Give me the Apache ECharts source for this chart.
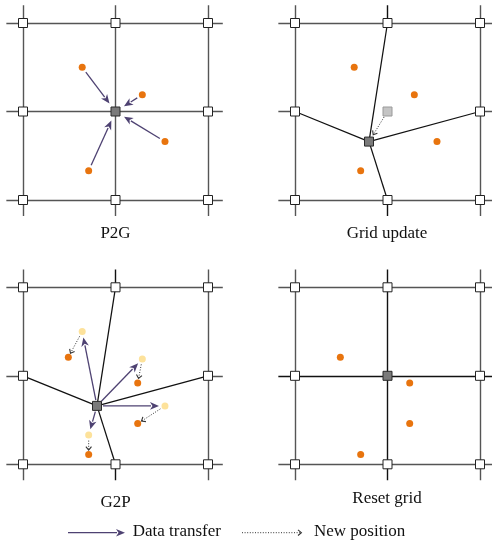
<!DOCTYPE html>
<html>
<head>
<meta charset="utf-8">
<script src="https://cdn.jsdelivr.net/npm/echarts@6/dist/echarts.min.js"></script>
<style>html,body{margin:0;padding:0;background:#fff;}#c{width:492px;height:544px;}</style>
</head>
<body>
<div id="c"></div>
<script>
// ---- data (grid units: node spacing = 1) ----
const gridNodes = [[0,0],[1,0],[2,0],[0,1],[1,1],[2,1],[0,2],[1,2],[2,2]];
const centerNode = [1,1];
const movedNode = [0.80,1.34];
const particlesBefore = [[0.64,0.50],[1.29,0.81],[1.535,1.34],[0.71,1.67]];
const particlesAfter  = [[0.49,0.79],[1.24,1.08],[1.24,1.54],[0.71,1.89]];
const panelTitles = ['P2G','Grid update','G2P','Reset grid'];
const legendLabels = ['Data transfer','New position'];
const lineExtentH = [-0.18, 2.16];
const lineExtentV = [-0.2, 2.18];

// ---- styles ----
const FONT = '"Liberation Serif","Times New Roman",serif';
const GRAY = '#555', BLACK = '#111', PURPLE = '#4e4272', DOT = '#333';
const ORANGE = '#e8740e', YELLOW = '#fde29b';

const panels = [
  {left:4.5, top:5.3},
  {left:276.5, top:5.3},
  {left:4.5, top:269.6},
  {left:276.5, top:269.6}
];
const W = 222, H = 212.4;

const grids = panels.map(p => ({left:p.left, top:p.top, width:W, height:H, containLabel:false, outerBoundsMode:'none'}));
const xAxes = panels.map((p,i) => ({type:'value', gridIndex:i, min:-0.2, max:2.2, show:false}));
const yAxes = panels.map((p,i) => ({type:'value', gridIndex:i, min:-0.2, max:2.2, inverse:true, show:false}));

const isCenter = n => n[0]===centerNode[0] && n[1]===centerNode[1];
const outerNodes = gridNodes.filter(n => !isCenter(n));

function straightLines(centerColor){
  const out = [];
  [0,1,2].forEach(k => {
    const c = k===1 ? centerColor : GRAY;
    out.push({coords:[[lineExtentH[0],k],[lineExtentH[1],k]], lineStyle:{color:c}});
    out.push({coords:[[k,lineExtentV[0]],[k,lineExtentV[1]]], lineStyle:{color:c}});
  });
  return out;
}
function deformedLines(){
  const out = [];
  [0,2].forEach(k => {
    out.push({coords:[[lineExtentH[0],k],[lineExtentH[1],k]], lineStyle:{color:GRAY}});
    out.push({coords:[[k,lineExtentV[0]],[k,lineExtentV[1]]], lineStyle:{color:GRAY}});
  });
  out.push({coords:[[lineExtentH[0],1],[0,1]], lineStyle:{color:GRAY}});
  out.push({coords:[[2,1],[lineExtentH[1],1]], lineStyle:{color:GRAY}});
  out.push({coords:[[1,lineExtentV[0]],[1,0]], lineStyle:{color:BLACK}});
  out.push({coords:[[1,2],[1,lineExtentV[1]]], lineStyle:{color:BLACK}});
  [[1,0],[0,1],[2,1],[1,2]].forEach(n => {
    out.push({coords:[n, movedNode], lineStyle:{color:BLACK, width:1.25}});
  });
  return out;
}

function linesSeries(i, data){
  return {type:'lines', coordinateSystem:'cartesian2d', xAxisIndex:i, yAxisIndex:i, z:1,
    silent:true, animation:false, lineStyle:{width:1.4, opacity:1}, data:data};
}
function nodeSeries(i, pts, fill, border){
  return {type:'scatter', xAxisIndex:i, yAxisIndex:i, symbol:'rect', symbolSize:9, z:5,
    silent:true, animation:false,
    itemStyle:{color:fill, borderColor:border, borderWidth:1, opacity:1}, data:pts};
}
function particleSeries(i, pts, color){
  return {type:'scatter', xAxisIndex:i, yAxisIndex:i, symbol:'circle', symbolSize:7, z:6,
    silent:true, animation:false, itemStyle:{color:color, opacity:1}, data:pts};
}
function arrowSeries(i, pairs, kind, g1, g2){
  return {type:'custom', xAxisIndex:i, yAxisIndex:i, z:4, silent:true, animation:false,
    encode:{x:[0,2], y:[1,3]},
    data: pairs.map(p => [p[0][0],p[0][1],p[1][0],p[1][1]]),
    renderItem: function(params, api){
      const a = api.coord([api.value(0), api.value(1)]);
      const b = api.coord([api.value(2), api.value(3)]);
      const dx = b[0]-a[0], dy = b[1]-a[1];
      const L = Math.sqrt(dx*dx+dy*dy) || 1;
      const ux = dx/L, uy = dy/L, nx = -uy, ny = ux;
      const s = [a[0]+ux*g1, a[1]+uy*g1];
      const e = [b[0]-ux*g2, b[1]-uy*g2];
      if (kind === 'solid') {
        const hl = 9, hw = 3.8;
        const bs = [e[0]-ux*hl, e[1]-uy*hl];
        return {type:'group', children:[
          {type:'line', shape:{x1:s[0],y1:s[1],x2:bs[0]+ux*1,y2:bs[1]+uy*1},
            style:{stroke:PURPLE, lineWidth:1.3}},
          {type:'polygon', shape:{points:[e,[bs[0]+nx*hw,bs[1]+ny*hw],[bs[0]+ux*2.5,bs[1]+uy*2.5],[bs[0]-nx*hw,bs[1]-ny*hw]]},
            style:{fill:PURPLE}}
        ]};
      } else {
        const hl = 3.5, hw = 2.8;
        const bs = [e[0]-ux*hl, e[1]-uy*hl];
        return {type:'group', children:[
          {type:'line', shape:{x1:s[0],y1:s[1],x2:e[0],y2:e[1]},
            style:{stroke:DOT, lineWidth:1, lineDash:[1,1.6]}},
          {type:'polyline', shape:{points:[[bs[0]+nx*hw,bs[1]+ny*hw],e,[bs[0]-nx*hw,bs[1]-ny*hw]]},
            style:{stroke:DOT, lineWidth:1.1, fill:null}}
        ]};
      }
    }
  };
}

const series = [];
// Panel 0: P2G
series.push(linesSeries(0, straightLines(GRAY)));
series.push(nodeSeries(0, outerNodes, '#fff', '#222'));
series.push(nodeSeries(0, [centerNode], '#7a7a7a', '#2a2a2a'));
series.push(particleSeries(0, particlesBefore, ORANGE));
series.push(arrowSeries(0, particlesBefore.map(p => [p, centerNode]), 'solid', 6, 10));
// Panel 1: Grid update
series.push(linesSeries(1, deformedLines()));
series.push(nodeSeries(1, outerNodes, '#fff', '#222'));
series.push(nodeSeries(1, [centerNode], '#c4c4c4', '#9a9a9a'));
series.push(nodeSeries(1, [movedNode], '#7a7a7a', '#2a2a2a'));
series.push(particleSeries(1, particlesBefore, ORANGE));
series.push(arrowSeries(1, [[centerNode, movedNode]], 'dotted', 6.6, 8));
// Panel 2: G2P
series.push(linesSeries(2, deformedLines()));
series.push(nodeSeries(2, outerNodes, '#fff', '#222'));
series.push(nodeSeries(2, [movedNode], '#7a7a7a', '#2a2a2a'));
series.push(particleSeries(2, particlesBefore, YELLOW));
series.push(particleSeries(2, particlesAfter, ORANGE));
series.push(arrowSeries(2, particlesBefore.map(p => [movedNode, p]), 'solid', 6, 6));
series.push(arrowSeries(2, particlesBefore.map((p,k) => [p, particlesAfter[k]]), 'dotted', 5.5, 4.5));
// Panel 3: Reset grid
series.push(linesSeries(3, straightLines(BLACK)));
series.push(nodeSeries(3, outerNodes, '#fff', '#222'));
series.push(nodeSeries(3, [centerNode], '#7a7a7a', '#2a2a2a'));
series.push(particleSeries(3, particlesAfter, ORANGE));

const titlePos = [[115.5,234],[387,233.5],[115.5,503],[387,498.5]];
const graphics = panelTitles.map((t,i) => ({
  type:'text', x:titlePos[i][0], y:titlePos[i][1], silent:true,
  style:{text:t, font:'17px '+FONT, fill:'#111', textAlign:'center', textVerticalAlign:'middle'}
}));
// legend
const ly = 532.7;
graphics.push({type:'line', shape:{x1:68,y1:ly,x2:117,y2:ly}, style:{stroke:PURPLE, lineWidth:1.3}});
graphics.push({type:'polygon', shape:{points:[[125,ly],[116,ly-3.8],[118.5,ly],[116,ly+3.8]]}, style:{fill:PURPLE}});
graphics.push({type:'text', x:132.7, y:532, style:{text:legendLabels[0], font:'17px '+FONT, fill:'#111', textAlign:'left', textVerticalAlign:'middle'}});
graphics.push({type:'line', shape:{x1:242,y1:ly,x2:301,y2:ly}, style:{stroke:DOT, lineWidth:1, lineDash:[1,1.6]}});
graphics.push({type:'polyline', shape:{points:[[298,ly-2.8],[301.4,ly],[298,ly+2.8]]}, style:{stroke:DOT, lineWidth:1.1, fill:null}});
graphics.push({type:'text', x:314, y:532, style:{text:legendLabels[1], font:'17px '+FONT, fill:'#111', textAlign:'left', textVerticalAlign:'middle'}});

const chart = echarts.init(document.getElementById('c'), null, {renderer:'canvas'});
chart.setOption({
  animation:false,
  backgroundColor:'#fff',
  grid:grids, xAxis:xAxes, yAxis:yAxes,
  series:series,
  graphic:graphics
});
</script>
</body>
</html>
